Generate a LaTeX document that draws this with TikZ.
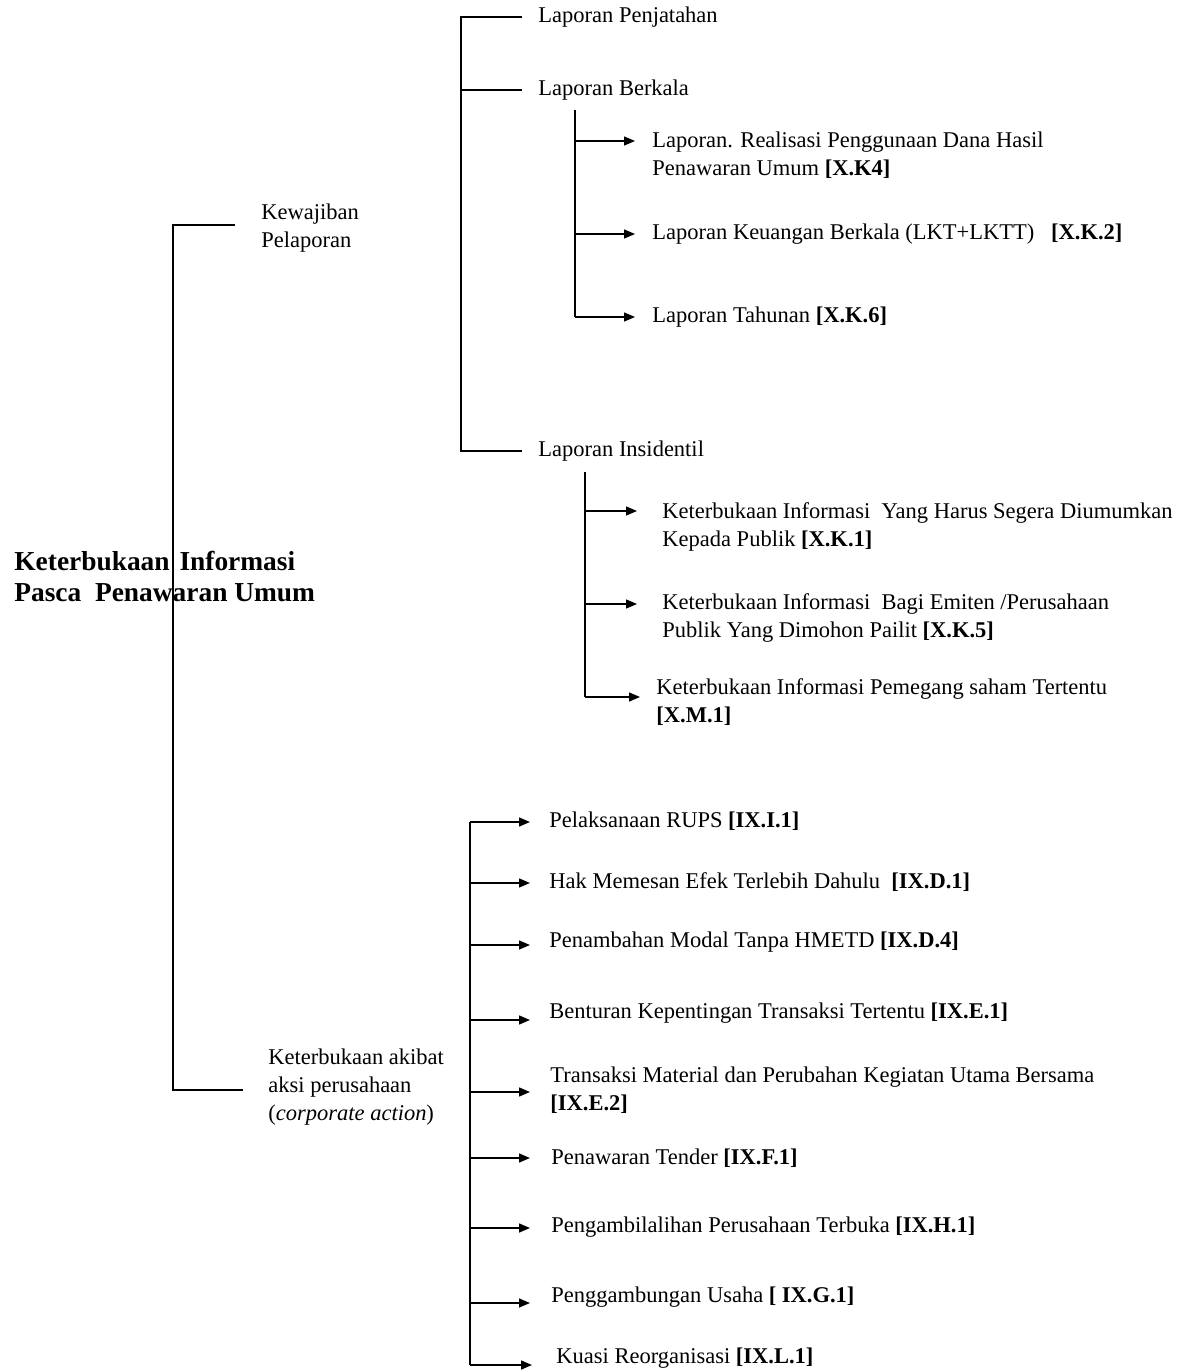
\documentclass[tikz,border=0pt]{standalone}
\usepackage{fontspec}
\setmainfont{Liberation Serif}
\usetikzlibrary{positioning,calc,arrows.meta}

\tikzset{
  item/.style={anchor=west, inner sep=0pt, align=left, font=\fontsize{11.25}{14}\selectfont},
  hdr/.style={anchor=west, inner sep=0pt, align=left, font=\fontsize{13.7}{15.5}\selectfont\bfseries},
  bar/.style={line width=0.7pt},
  arr/.style={bar, -{Triangle[length=5.5pt,width=4.5pt]}},
}

\begin{document}
\begin{tikzpicture}[x=0.5pt,y=-0.5pt]
  \useasboundingbox (0,0) rectangle (1196,1370);

  % root
  \node[hdr] (root) at (14,577) {Keterbukaan\hspace{1.5pt} Informasi\\Pasca\ \ Penawaran Umum};

  % first level
  \node[item] (wajib) at (261,228) {Kewajiban\\Pelaporan};
  \node[item] (aksi) at (268,1087) {Keterbukaan akibat\\aksi perusahaan\\(\textit{corporate action})};
  \coordinate (spine0) at (173,0);
  \coordinate (w1) at ($(wajib.west)+(-26,-3)$);
  \coordinate (a1) at ($(aksi.west)+(-25,3)$);
  \draw[bar] (w1) -- (w1 -| spine0) -- (a1 -| spine0) -- (a1);

  % kewajiban pelaporan
  \node[item] (jatah) at (538,17) {Laporan Penjatahan};
  \node[item] (kala) at (538,90) {Laporan Berkala};
  \node[item] (insi) at (538,451) {Laporan Insidentil};
  \coordinate (spine1) at (461,0);
  \draw[bar] ($(jatah.west)+(-16,0)$) -- (jatah.west -| spine1) -- (insi.west -| spine1) -- ($(insi.west)+(-16,0)$);
  \draw[bar] (kala.west -| spine1) -- ($(kala.west)+(-16,0)$);

  % laporan berkala
  \node[item] (dana) at (652,155) {Laporan. Realisasi Penggunaan Dana Hasil\\Penawaran Umum \textbf{[X.K4]}};
  \node[item] (keu) at (652,234) {Laporan Keuangan Berkala (LKT+LKTT)\ \ \ \textbf{[X.K.2]}};
  \node[item] (tahun) at (652,317) {Laporan Tahunan \textbf{[X.K.6]}};
  \coordinate (spine2) at (575,110);
  \draw[bar] (spine2) -- (tahun.west -| spine2);
  \draw[arr] ($(dana.west -| spine2)+(0,-14)$) -- ($(dana.west)+(-17,-14)$);
  \draw[arr] (keu.west -| spine2) -- ($(keu.west)+(-17,0)$);
  \draw[arr] (tahun.west -| spine2) -- ($(tahun.west)+(-17,0)$);

  % laporan insidentil
  \node[item] (segera) at (662,527) {Keterbukaan Informasi\ \ Yang Harus Segera Diumumkan\\Kepada Publik \textbf{[X.K.1]}};
  \node[item] (pailit) at (662,618) {Keterbukaan Informasi\ \ Bagi Emiten /Perusahaan\\Publik Yang Dimohon Pailit \textbf{[X.K.5]}};
  \node[item] (saham) at (656,702) {Keterbukaan Informasi Pemegang saham Tertentu\\\textbf{[X.M.1]}};
  \coordinate (spine3) at (585,472);
  \draw[bar] (spine3) -- ($(saham.west -| spine3)+(0,-5)$);
  \draw[arr] ($(segera.west -| spine3)+(0,-16)$) -- ($(segera.west)+(-25,-16)$);
  \draw[arr] ($(pailit.west -| spine3)+(0,-14)$) -- ($(pailit.west)+(-25,-14)$);
  \draw[arr] ($(saham.west -| spine3)+(0,-5)$) -- ($(saham.west)+(-16,-5)$);

  % corporate action
  \node[item] (rups) at (549,821) {Pelaksanaan RUPS \textbf{[IX.I.1]}};
  \node[item] (hmetd) at (549,882) {Hak Memesan Efek Terlebih Dahulu\ \ \textbf{[IX.D.1]}};
  \node[item] (modal) at (549,942) {Penambahan Modal Tanpa HMETD \textbf{[IX.D.4]}};
  \node[item] (bentur) at (549,1013) {Benturan Kepentingan Transaksi Tertentu \textbf{[IX.E.1]}};
  \node[item] (material) at (550,1090) {Transaksi Material dan Perubahan Kegiatan Utama Bersama\\\textbf{[IX.E.2]}};
  \node[item] (tender) at (551,1158) {Penawaran Tender \textbf{[IX.F.1]}};
  \node[item] (ambil) at (551,1227) {Pengambilalihan Perusahaan Terbuka \textbf{[IX.H.1]}};
  \node[item] (gabung) at (551,1297) {Penggambungan Usaha \textbf{[ IX.G.1]}};
  \node[item] (kuasi) at (556,1358) {Kuasi Reorganisasi \textbf{[IX.L.1]}};
  \coordinate (spine4) at (470,0);
  \draw[bar] ($(rups.west -| spine4)+(0,1)$) -- ($(kuasi.west -| spine4)+(0,7)$);
  \draw[arr] ($(rups.west -| spine4)+(0,1)$) -- ($(rups.west)+(-19,1)$);
  \draw[arr] ($(hmetd.west -| spine4)+(0,1)$) -- ($(hmetd.west)+(-19,1)$);
  \draw[arr] ($(modal.west -| spine4)+(0,3)$) -- ($(modal.west)+(-19,3)$);
  \draw[arr] ($(bentur.west -| spine4)+(0,7)$) -- ($(bentur.west)+(-19,7)$);
  \draw[arr] ($(material.west -| spine4)+(0,2)$) -- ($(material.west)+(-20,2)$);
  \draw[arr] (tender.west -| spine4) -- ($(tender.west)+(-21,0)$);
  \draw[arr] ($(ambil.west -| spine4)+(0,1)$) -- ($(ambil.west)+(-21,1)$);
  \draw[arr] ($(gabung.west -| spine4)+(0,6)$) -- ($(gabung.west)+(-21,6)$);
  \draw[arr] ($(kuasi.west -| spine4)+(0,7)$) -- ($(kuasi.west)+(-24,7)$);
\end{tikzpicture}
\end{document}
